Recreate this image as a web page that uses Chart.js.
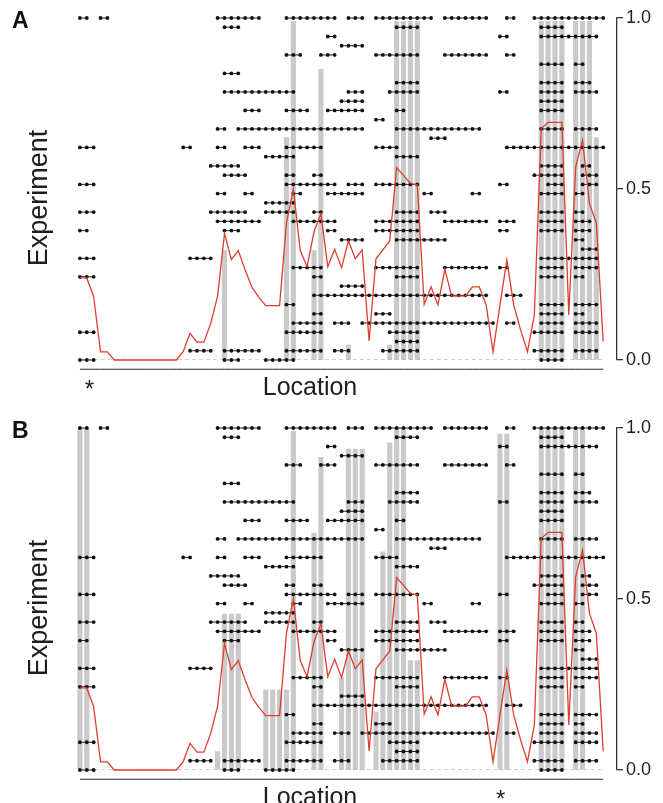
<!DOCTYPE html>
<html>
<head>
<meta charset="utf-8">
<script src="https://cdn.jsdelivr.net/npm/chart.js@4.4.1/dist/chart.umd.min.js"></script>
<style>
  html, body { margin: 0; padding: 0; background: #fff; overflow: hidden; }
  .panel { position: absolute; left: 0; width: 663px; height: 410px; }
  .tag { position: absolute; left: 12px; font: bold 23px "Liberation Sans", Arial, sans-serif; line-height: 1; color: #111; }
</style>
</head>
<body>
<div class="panel" style="top:0"><canvas id="chartA" width="663" height="410"></canvas></div>
<div class="panel" style="top:410px"><canvas id="chartB" width="663" height="410"></canvas></div>
<div class="tag" style="top:9px">A</div>
<div class="tag" style="top:419px">B</div>
<script>
const FONT = '"Liberation Sans", Arial, sans-serif';

// location index along the x axis
const locations = Array.from({ length: 77 }, (_, i) => i);

// one entry per experiment row (top to bottom), each a list of [first, last] location runs
const experimentRows = [
  [[0, 1], [3, 4], [20, 26], [30, 37], [39, 41], [43, 51], [53, 59], [62, 63], [66, 76]],
  [[21, 23], [46, 49], [67, 70]],
  [[36, 37], [61, 62], [67, 75]],
  [[38, 41]],
  [[30, 32], [35, 37], [43, 49], [53, 59], [62, 63]],
  [[67, 70], [72, 73]],
  [[21, 23]],
  [[46, 49], [67, 70], [72, 74]],
  [[21, 31], [39, 41], [45, 49], [61, 62], [67, 70], [72, 75]],
  [[38, 41], [67, 70]],
  [[24, 26], [30, 33], [36, 41], [46, 47], [67, 70]],
  [[43, 44]],
  [[20, 21], [23, 41], [46, 58], [67, 70], [72, 75]],
  [[51, 53]],
  [[0, 2], [15, 16], [20, 21], [24, 26], [30, 35], [43, 46], [62, 76]],
  [[27, 31], [46, 49]],
  [[19, 23], [67, 70], [73, 74]],
  [[21, 24], [30, 31], [34, 35], [66, 70], [73, 75]],
  [[0, 2], [30, 37], [39, 41], [43, 49], [61, 62], [68, 70], [73, 75]],
  [[20, 21], [24, 25], [31, 32], [36, 41], [50, 51], [57, 58], [67, 70], [72, 73]],
  [[27, 31]],
  [[0, 2], [19, 24], [27, 31], [34, 35], [46, 49], [51, 53], [67, 70], [72, 73]],
  [[20, 26], [31, 37], [43, 49], [53, 59], [61, 63], [67, 70], [72, 74]],
  [[0, 1], [21, 23], [36, 37], [43, 49], [61, 62], [67, 70], [72, 74]],
  [[38, 41], [46, 53], [72, 73]],
  [[73, 75]],
  [[0, 2], [16, 19], [67, 75]],
  [[31, 35], [43, 49], [53, 59], [61, 62], [67, 70], [72, 75]],
  [[0, 2], [34, 35], [46, 49], [67, 70], [72, 73]],
  [[38, 41]],
  [[34, 59], [62, 64]],
  [[30, 31], [67, 70], [72, 75]],
  [[34, 35], [43, 45], [67, 70], [72, 73]],
  [[31, 35], [37, 39], [41, 60], [62, 63], [67, 70], [72, 75]],
  [[0, 2], [30, 35], [45, 49], [66, 70], [72, 75]],
  [[46, 49]],
  [[16, 19], [21, 26], [30, 35], [37, 39], [44, 49], [66, 70], [72, 75]],
  [[0, 2], [21, 23], [27, 31], [67, 70]],
  [[0, 76]]
];

// red line, one value per location
const meanLine = [
  0.24, 0.24, 0.185, 0.024, 0.024, 0, 0, 0, 0, 0,
  0, 0, 0, 0, 0, 0.024, 0.078, 0.052, 0.052, 0.107,
  0.187, 0.37, 0.294, 0.32, 0.263, 0.212, 0.183, 0.159, 0.159, 0.159,
  0.40, 0.50, 0.32, 0.273, 0.375, 0.428, 0.273, 0.324, 0.27, 0.348,
  0.296, 0.322, 0.056, 0.296, 0.322, 0.348, 0.562, 0.54, 0.516, 0.512,
  0.163, 0.214, 0.161, 0.265, 0.187, 0.187, 0.187, 0.214, 0.214, 0.161,
  0.024, 0.16, 0.292, 0.161, 0.088, 0.024, 0.132, 0.677, 0.695, 0.695,
  0.695, 0.132, 0.565, 0.643, 0.458, 0.40, 0.054
];

// grey bars
const barLocsA = [21, 30, 31, 34, 35, 39, 45, 46, 47, 48, 49, 67, 68, 69, 70, 72, 73, 74, 75];
const barValsA = [0.32, 0.65, 0.99, 0.32, 0.85, 0.044, 0.044, 0.99, 0.99, 0.99, 0.99, 0.99, 0.99, 0.99, 0.99, 0.99, 0.99, 0.99, 0.65];
const barLocsB = [0, 1, 20, 21, 22, 23, 27, 28, 29, 30, 31, 34, 35, 38, 39, 40, 41, 43, 44, 45, 46, 47, 48, 49, 61, 62, 67, 68, 69, 70, 72, 73];
const barValsB = [1, 1, 0.054, 0.456, 0.456, 0.456, 0.234, 0.234, 0.234, 0.234, 0.99, 0.692, 0.914, 0.27, 0.938, 0.938, 0.938, 0.17, 0.638, 0.957, 1, 1, 0.32, 0.32, 0.982, 0.982, 1, 1, 1, 1, 1, 1];

const starLocA = 1.4;
const starLocB = 61.1;
const yTicks = [0, 0.5, 1];

const labelPlugin = {
  id: 'panelLabels',
  afterDraw(chart, args, opts) {
    const { ctx, chartArea, scales } = chart;
    ctx.save();
    ctx.fillStyle = '#1e1e1e';
    ctx.textAlign = 'center';
    ctx.textBaseline = 'middle';
    ctx.font = '25px ' + FONT;
    ctx.fillText('Location', 310, chartArea.bottom + 28);
    ctx.font = '24px ' + FONT;
    ctx.textBaseline = 'alphabetic';
    ctx.fillText('*', scales.x.getPixelForValue(opts.star), chartArea.bottom + 37);
    ctx.translate(40, 198);
    ctx.rotate(-Math.PI / 2);
    ctx.textBaseline = 'middle';
    ctx.font = '27px ' + FONT;
    ctx.fillText('Experiment', 0, 0);
    ctx.restore();
  }
};

function makeChart(id, barLocs, barVals, starLoc) {
  const datasets = [];

  datasets.push({
    type: 'bar',
    data: barLocs.map((x, i) => ({ x: x, y: barVals[i] })),
    backgroundColor: '#cacaca',
    barThickness: 4.5,
    yAxisID: 'y',
    order: 5
  });

  datasets.push({
    type: 'line',
    data: [{ x: locations[0], y: 0 }, { x: locations[locations.length - 1], y: 0 }],
    borderColor: '#a0a0a0',
    borderWidth: 1,
    borderDash: [4, 3],
    pointRadius: 0,
    yAxisID: 'y',
    order: 4
  });

  experimentRows.forEach((segs, row) => {
    datasets.push({
      type: 'line',
      data: locations.map(loc => ({
        x: loc,
        y: segs.some(([a, b]) => loc >= a && loc <= b) ? row : null
      })),
      borderColor: '#2a2a2a',
      borderWidth: 1,
      pointRadius: 1.9,
      pointBackgroundColor: '#111',
      pointBorderWidth: 0,
      spanGaps: false,
      clip: false,
      yAxisID: 'yRow',
      order: 2
    });
  });

  datasets.push({
    type: 'line',
    data: locations.map((x, i) => ({ x: x, y: meanLine[i] })),
    borderColor: '#dc3f2c',
    borderWidth: 1.3,
    pointRadius: 0,
    tension: 0,
    clip: false,
    yAxisID: 'y',
    order: 1
  });

  new Chart(document.getElementById(id), {
    type: 'line',
    data: { datasets: datasets },
    options: {
      responsive: false,
      animation: false,
      events: [],
      layout: { padding: { left: 73, right: 9, top: 18, bottom: 50 } },
      plugins: {
        legend: { display: false },
        tooltip: { enabled: false },
        panelLabels: { star: starLoc }
      },
      scales: {
        x: {
          type: 'linear',
          display: false,
          offset: false,
          min: -1,
          max: 78
        },
        y: {
          type: 'linear',
          position: 'right',
          min: 0,
          max: 1,
          afterBuildTicks: (axis) => { axis.ticks = yTicks.map(v => ({ value: v })); },
          ticks: {
            callback: (v) => v.toFixed(1),
            font: { size: 18, family: FONT },
            color: '#222',
            padding: 3
          },
          grid: { drawOnChartArea: false, drawTicks: true, tickLength: 6, color: '#333', lineWidth: 1.3 },
          border: { display: true, color: '#333', width: 1.3 }
        },
        yRow: {
          type: 'linear',
          display: false,
          reverse: true,
          min: 0,
          max: 37
        }
      }
    },
    plugins: [labelPlugin]
  });
}

makeChart('chartA', barLocsA, barValsA, starLocA);
makeChart('chartB', barLocsB, barValsB, starLocB);
</script>
</body>
</html>
